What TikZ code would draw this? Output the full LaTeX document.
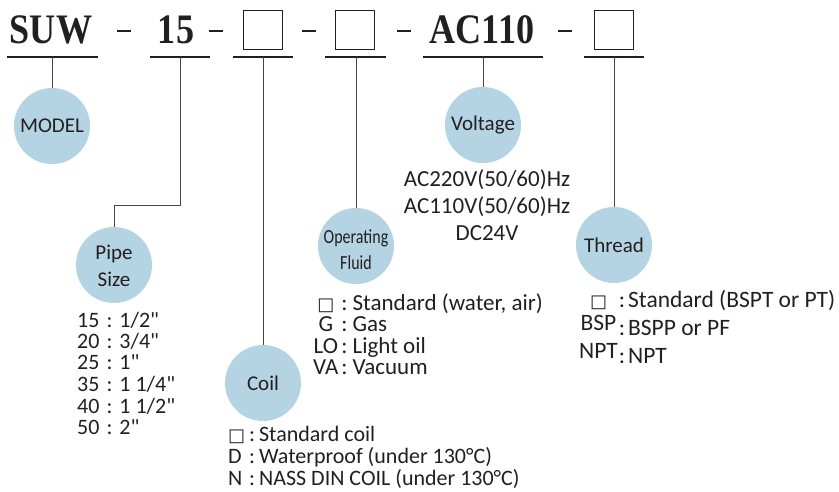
\documentclass[tikz,border=0pt]{standalone}
\usepackage{fontspec}
\setmainfont{Carlito}[Ligatures=TeXOff]
\newfontfamily\codefont{Liberation Serif}[FakeStretch=0.86]
\newfontfamily\narrowfont{Carlito}[FakeStretch=0.8]
\newfontfamily\boxfont{DejaVu Sans}
\usetikzlibrary{positioning}
\definecolor{bubblefill}{RGB}{180,211,227}
\definecolor{inkgray}{RGB}{35,31,32}
\definecolor{linegray}{RGB}{70,70,70}
\tikzstyle{code} = [font=\codefont\bfseries\fontsize{42}{42}\selectfont, text=inkgray, inner sep=0pt, anchor=base]
\tikzstyle{slot} = [rectangle, draw=inkgray, line width=1.4pt, minimum size=39pt, inner sep=0pt]
\tikzstyle{bar} = [line width=1.3pt, color=inkgray]
\tikzstyle{dashmark} = [line width=1.4pt, color=inkgray]
\tikzstyle{bubble} = [circle, fill=bubblefill, minimum size=76pt, inner sep=0pt, align=center, text=inkgray, font=\fontsize{21}{27}\selectfont]
\tikzstyle{link} = [line width=0.9pt, color=linegray]
\tikzstyle{options} = [inner sep=0pt, text=inkgray, anchor=base west, font=\fontsize{22}{21.2}\selectfont]
\newcommand{\sq}{{\boxfont\fontsize{18}{18}\selectfont □}}
\newcommand{\twolines}[2]{\raisebox{-#1}[0pt][0pt]{\begin{tabular}{@{}c@{}}#2\end{tabular}}}

\begin{document}
\begin{tikzpicture}[x=1pt,y=-1pt]
\useasboundingbox (0,0) rectangle (839,491);

% code line
\node[code] (suw) at (51,43) {SUW};
\node[code] (size) at (176,43) {15};
\node[slot] (coilslot) at (263,30) {};
\node[slot] (fluidslot) at (355,30) {};
\node[code] (volt) at (482,43) {AC110};
\node[slot] (threadslot) at (614,30) {};

\foreach \x in {117,209,302,397,558}
  \draw[dashmark] (\x,31) -- ++(14,0);

\draw[bar] (7,57) -- (98,57);
\draw[bar] (150,57) -- (210,57);
\draw[bar] (233,57) -- (293,57);
\draw[bar] (325,57) -- (386,57);
\draw[bar] (423,57) -- (543,57);
\draw[bar] (584,57) -- (644,57);

% bubbles
\node[bubble] (model) at (52,126) {MODEL};
\node[bubble] (pipesize) at (114,265) {\twolines{8pt}{Pipe\\Size}};
\node[bubble] (coil) at (263,383) {Coil};
\node[bubble, font=\narrowfont\fontsize{20}{26}\selectfont] (fluid) at (356,246) {\twolines{10pt}{Operating\\Fluid}};
\node[bubble] (voltage) at (483,125) {Voltage};
\node[bubble] (thread) at (614,245) {Thread};

\coordinate (suwtick) at (52,57);
\coordinate (sizetick) at (180,57);
\coordinate (sizebend) at (114,205);
\coordinate (coiltick) at (263,57);
\coordinate (fluidtick) at (356,57);
\coordinate (volttick) at (483,57);
\coordinate (threadtick) at (614,57);

\draw[link] (suwtick) -- (model);
\draw[link] (sizetick) |- (sizebend) -- (pipesize);
\draw[link] (coiltick) -- (coil);
\draw[link] (fluidtick) -- (fluid);
\draw[link] (volttick) -- (voltage);
\draw[link] (threadtick) -- (thread);

% option lists
\node[options] (sizelist) at (77,327) {\begin{tabular}[t]{@{}l@{\hspace{7pt}:\hspace{7pt}}l@{}}
15 & 1/2"\\ 20 & 3/4"\\ 25 & 1"\\ 35 & 1 1/4"\\ 40 & 1 1/2"\\ 50 & 2"
\end{tabular}};
\node[options, anchor=base, font=\fontsize{23}{27}\selectfont] (voltlist) at (487,186) {\begin{tabular}[t]{@{}c@{}}
AC220V(50/60)Hz\\ AC110V(50/60)Hz\\ DC24V
\end{tabular}};
\node[options, font=\fontsize{23}{20.7}\selectfont] (fluidlist) at (313,310) {\begin{tabular}[t]{@{}c@{\hspace{3pt}:\hspace{5pt}}l@{}}
\sq & Standard (water, air)\\ G & Gas\\ LO & Light oil\\ VA & Vacuum
\end{tabular}};
\node[options, font=\fontsize{22}{21}\selectfont] (coillist) at (228,441) {\begin{tabular}[t]{@{}l@{\hspace{4pt}:\hspace{4pt}}l@{}}
\sq & Standard coil\\ D & Waterproof (under 130°C)\\ N & NASS DIN COIL (under 130°C)
\end{tabular}};
\node[options, font=\fontsize{23.5}{27.5}\selectfont] (threadlist) at (579,307) {\begin{tabular}[t]{@{}c@{\hspace{1pt}:\hspace{3pt}}l@{}}
\sq & Standard (BSPT or PT)\\ \raisebox{5pt}{BSP} & BSPP or PF\\ \raisebox{5pt}{NPT} & NPT
\end{tabular}};
\end{tikzpicture}
\end{document}
